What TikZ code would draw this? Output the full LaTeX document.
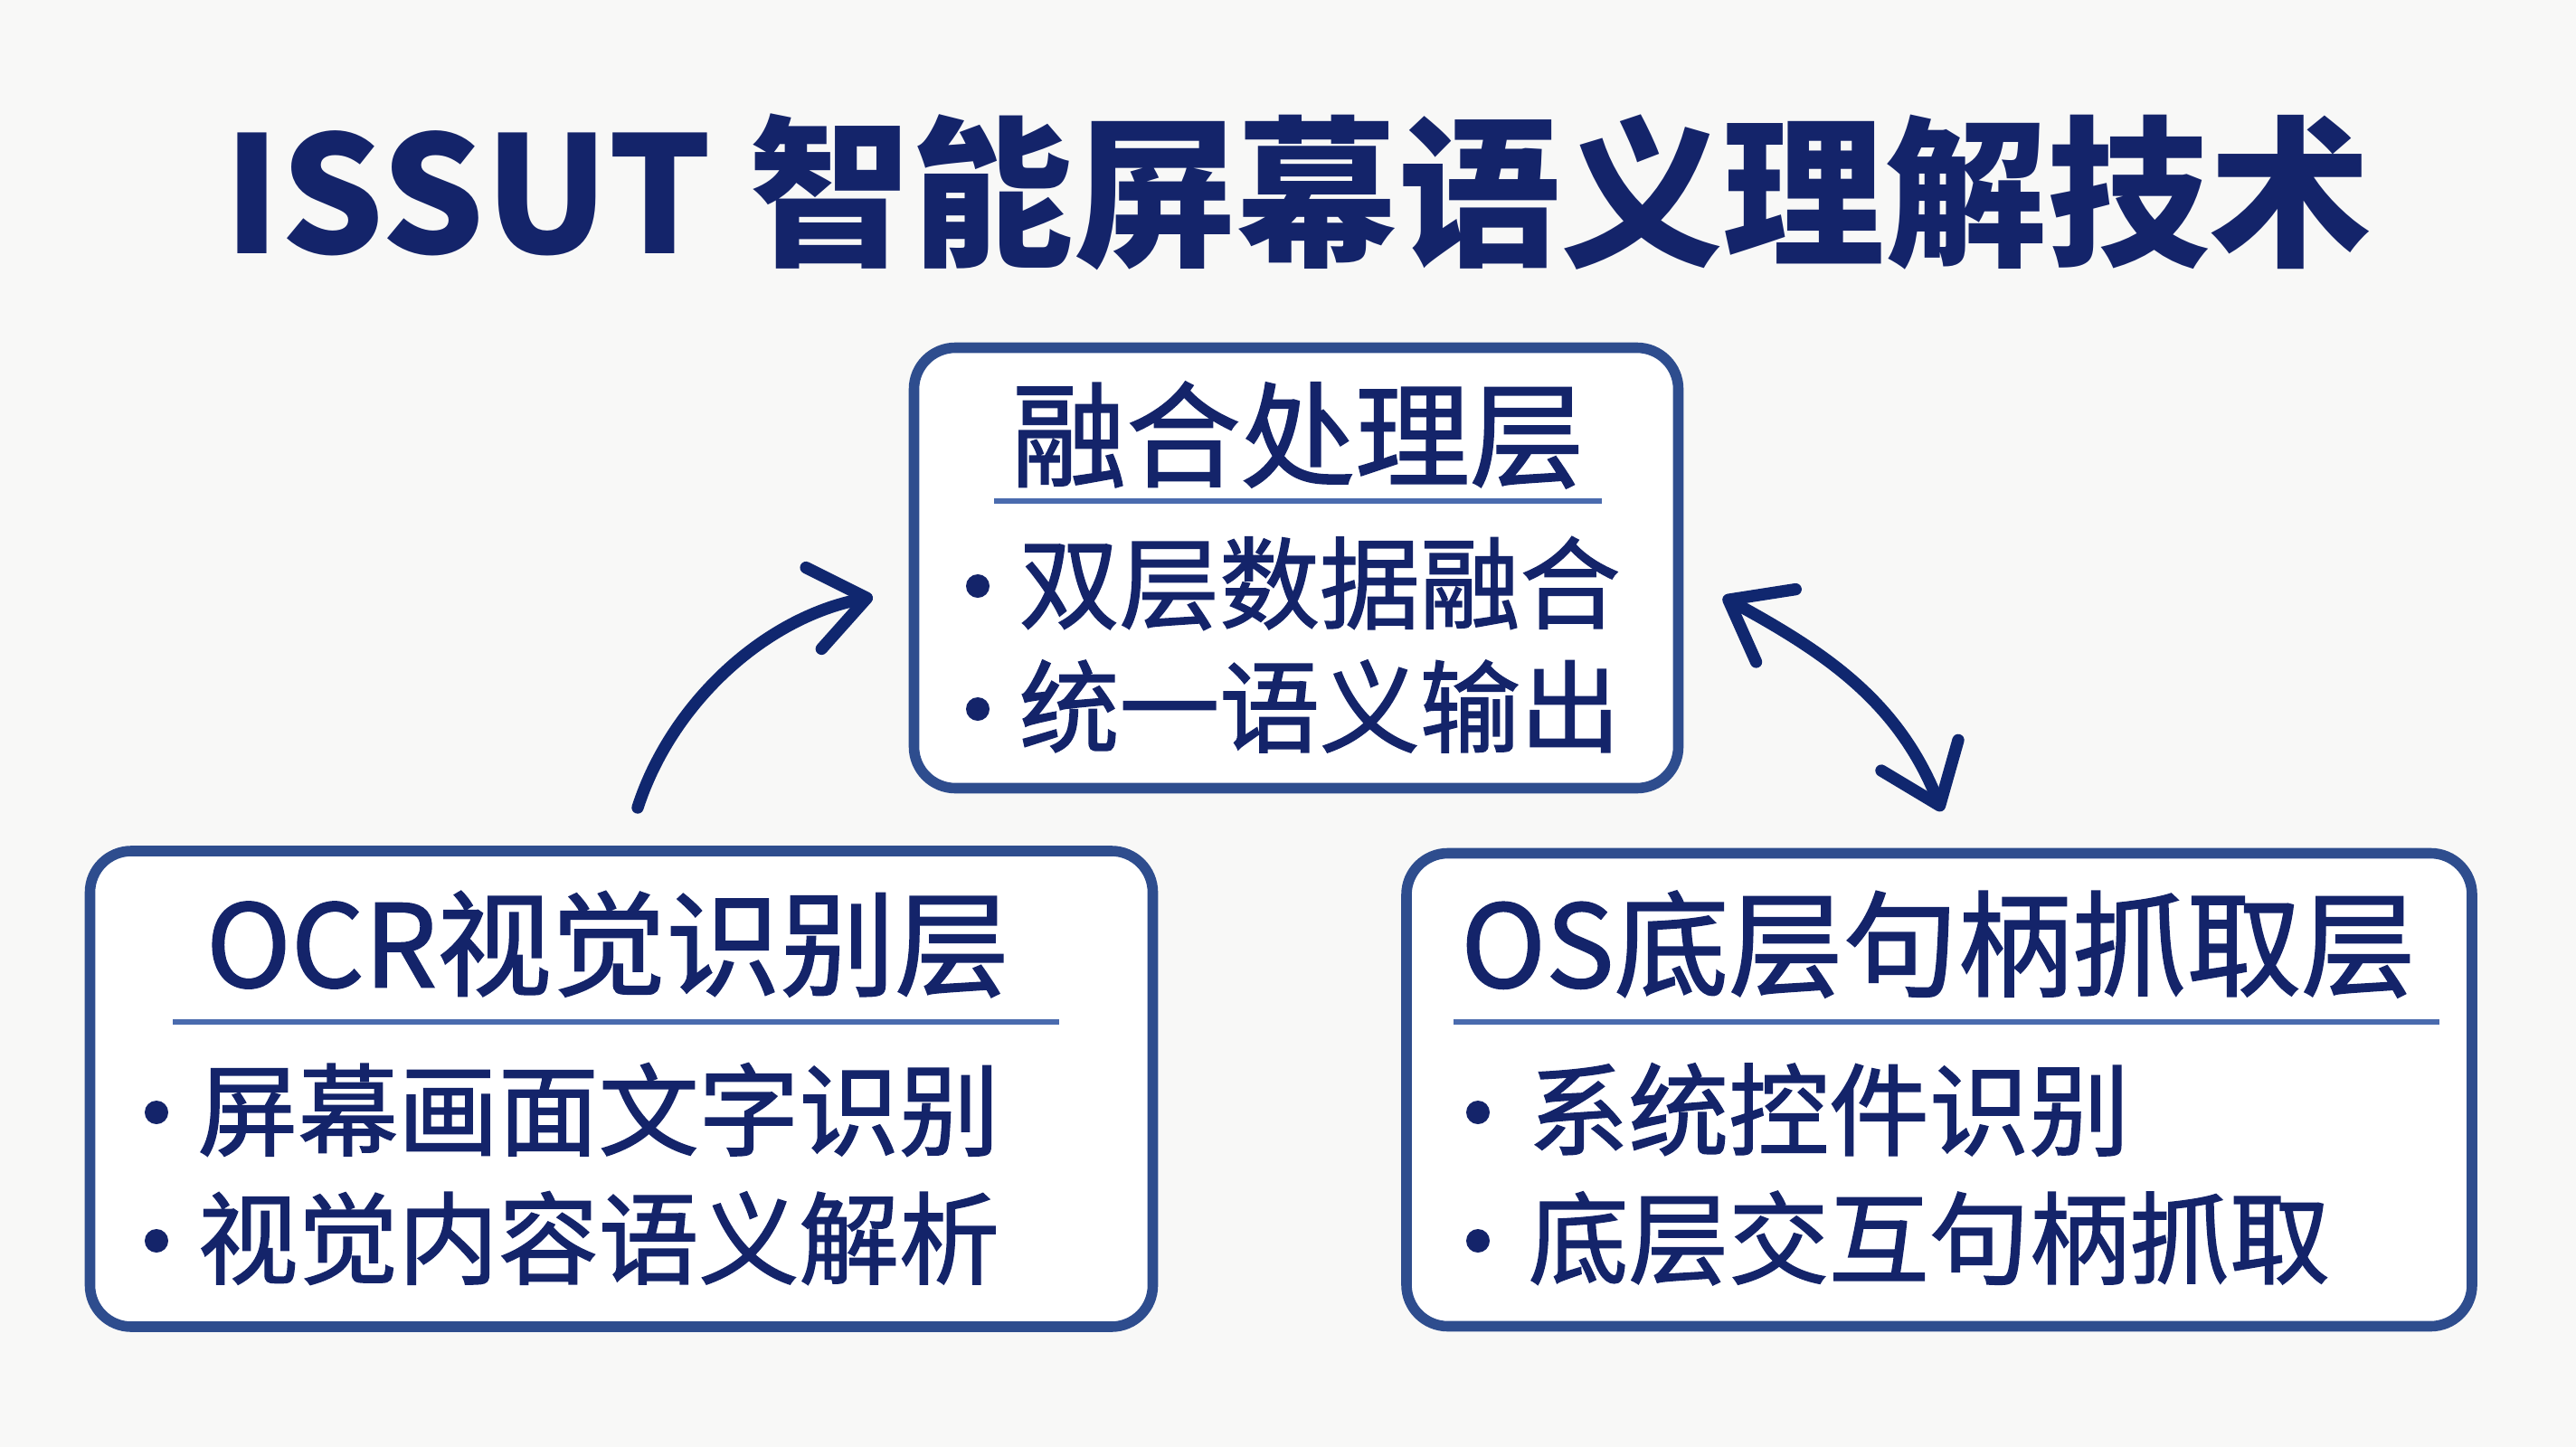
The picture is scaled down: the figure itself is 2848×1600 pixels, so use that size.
\documentclass[tikz,border=0pt]{standalone}
\usepackage{fontspec}
\usetikzlibrary{arrows.meta}
\newfontfamily\cjk{Noto Sans CJK SC}
\newfontfamily\cjkthick[FakeBold=1.4]{Noto Sans CJK SC}
\definecolor{bgc}{HTML}{F8F8F7}
\definecolor{boxc}{HTML}{2E4D8E}
\definecolor{inkc}{HTML}{14246A}
\definecolor{arrc}{HTML}{10276F}
\definecolor{rulec}{HTML}{4A6BAE}
\tikzset{
  layerbox/.style={draw=boxc, line width=3.3pt, rounded corners=13pt, fill=white, inner sep=0pt},
  maintitle/.style={font=\cjk\bfseries\fontsize{51pt}{60pt}\selectfont, text=inkc, inner sep=0pt},
  boxtitle/.style={font=\cjkthick\fontsize{36pt}{42pt}\selectfont, text=inkc, inner sep=0pt},
  itemtext/.style={font=\cjkthick\fontsize{31.5pt}{38pt}\selectfont, text=inkc, inner sep=0pt, anchor=west},
  dot/.style={circle, fill=inkc, minimum size=0.26cm, inner sep=0pt},
  rulel/.style={draw=rulec, line width=1.8pt},
  arr/.style={draw=arrc, line width=3.8pt, line cap=round,
    arrows={-Straight Barb[length=17pt,width=26pt,round]}},
  darr/.style={draw=arrc, line width=3.8pt, line cap=round,
    arrows={Straight Barb[length=17pt,width=26pt,round]-Straight Barb[length=17pt,width=26pt,round]}}
}
\begin{document}
\begin{tikzpicture}[x=0.01cm,y=-0.01cm]
\fill[bgc] (0,0) rectangle (2848,1600);
\useasboundingbox (0,0) rectangle (2848,1600);

\node[maintitle] (title) at (1435,212) {ISSUT 智能屏幕语义理解技术};

% top box
\node[layerbox, minimum width=845*0.01cm, minimum height=487*0.01cm] (fuse) at (1433,628) {};
\node[boxtitle] (fuset) at (1435,481) {融合处理层};
\coordinate (fuseul1) at (1099,554);
\coordinate (fuseul2) at (1771,554);
\draw[rulel] (fuseul1) -- (fuseul2);
\node[dot] (fd1) at (1081,648) {};
\node[itemtext] (fi1) at (1126,645) {双层数据融合};
\node[dot] (fd2) at (1081,784) {};
\node[itemtext] (fi2) at (1126,781) {统一语义输出};

% left box
\node[layerbox, minimum width=1175*0.01cm, minimum height=526*0.01cm] (ocr) at (687,1204) {};
\node[boxtitle] (ocrt) at (672,1044) {OCR视觉识别层};
\coordinate (ocrul1) at (191,1130);
\coordinate (ocrul2) at (1171,1130);
\draw[rulel] (ocrul1) -- (ocrul2);
\node[dot] (od1) at (173,1230) {};
\node[itemtext] (oi1) at (218,1227) {屏幕画面文字识别};
\node[dot] (od2) at (173,1372) {};
\node[itemtext] (oi2) at (218,1369) {视觉内容语义解析};

% right box
\node[layerbox, minimum width=1178*0.01cm, minimum height=523*0.01cm] (os) at (2144,1205) {};
\node[boxtitle] (ost) at (2143,1044) {OS底层句柄抓取层};
\coordinate (osul1) at (1607,1130);
\coordinate (osul2) at (2697,1130);
\draw[rulel] (osul1) -- (osul2);
\node[dot] (sd1) at (1634,1230) {};
\node[itemtext] (si1) at (1689,1227) {系统控件识别};
\node[dot] (sd2) at (1634,1372) {};
\node[itemtext] (si2) at (1689,1369) {底层交互句柄抓取};

% arrows
\coordinate (la1) at (705,893);
\coordinate (la2) at (965,660);
\draw[arr] (la1) .. controls (742,778) and (845,683) .. (la2);
\coordinate (ra1) at (1905,660);
\coordinate (ra2) at (2147,897);
\draw[darr] (ra1) .. controls (2019,722) and (2099,776) .. (ra2);
\end{tikzpicture}
\end{document}
